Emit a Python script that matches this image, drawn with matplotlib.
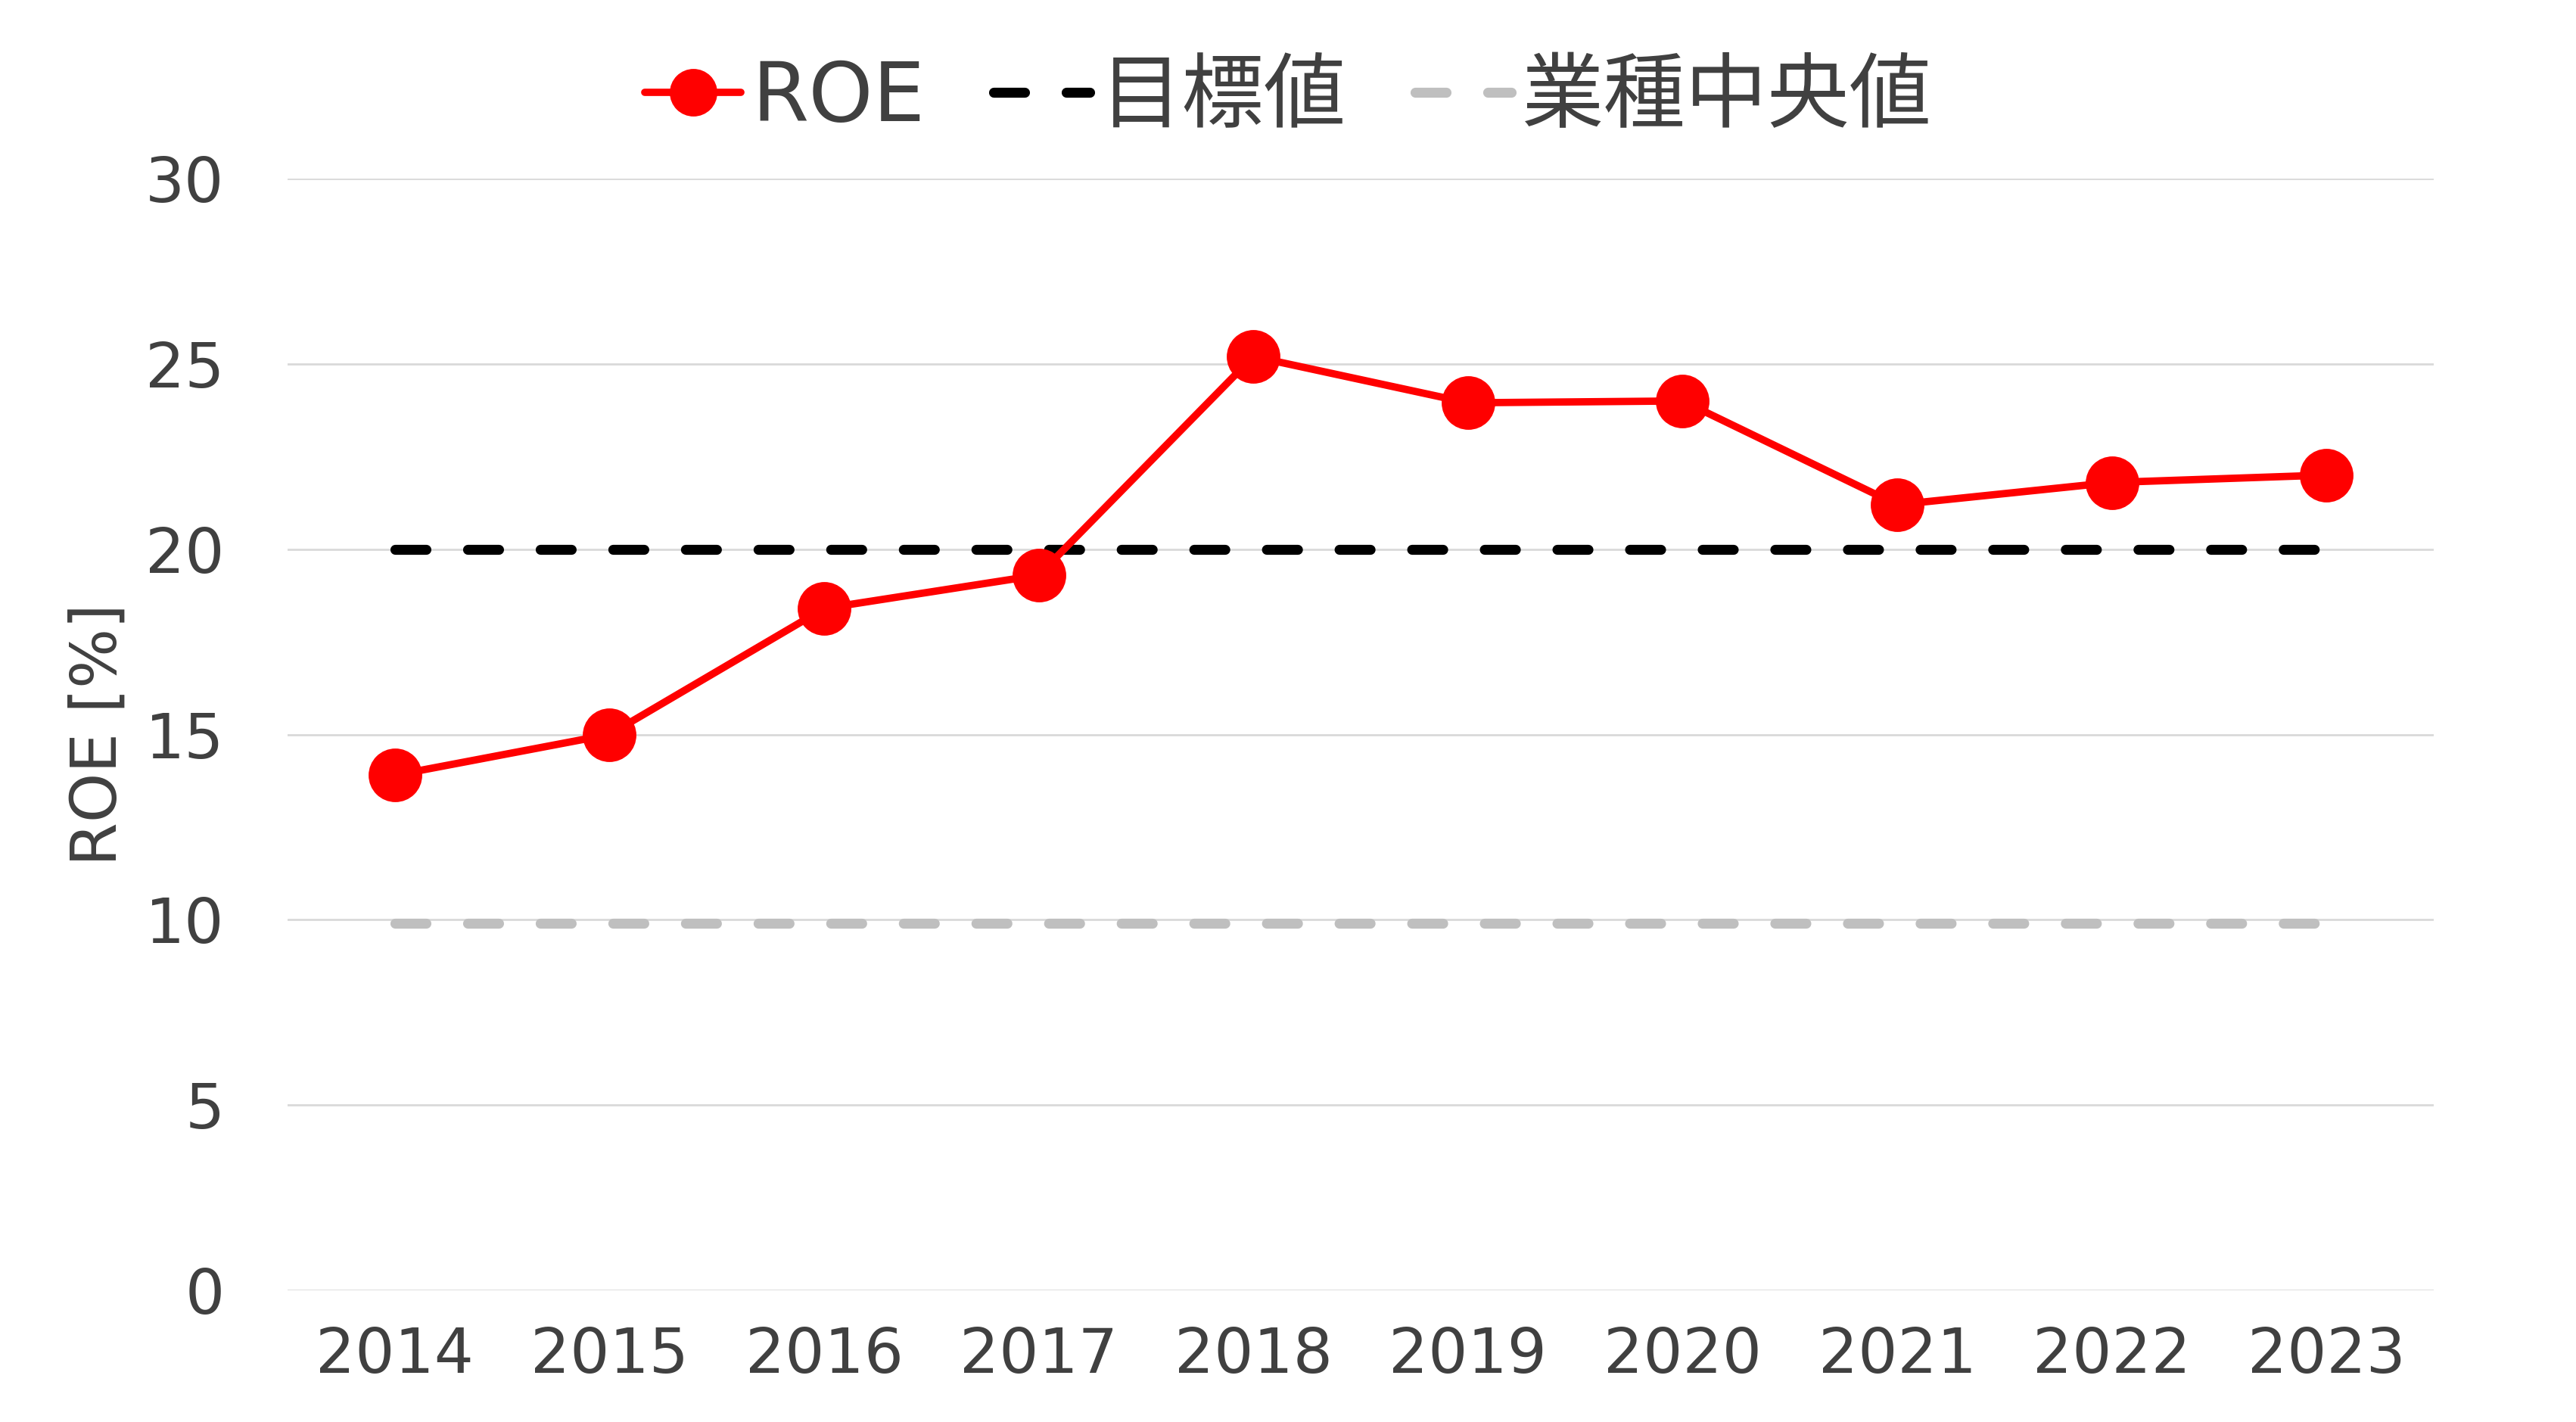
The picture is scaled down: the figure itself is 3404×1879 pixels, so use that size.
import matplotlib
matplotlib.use("Agg")
import matplotlib.pyplot as plt

plt.rcParams['font.family'] = ['DejaVu Sans', 'Noto Sans CJK JP']
plt.rcParams['lines.scale_dashes'] = False

years = ["2014", "2015", "2016", "2017", "2018", "2019", "2020", "2021", "2022", "2023"]
roe = [13.9, 15.0, 18.4, 19.3, 25.2, 23.95, 24.0, 21.2, 21.8, 22.0]
target = [20] * 10
industry_median = [9.9] * 10
yticks = [0, 5, 10, 15, 20, 25, 30]

text_color = "#404040"
x = list(range(len(years)))

fig = plt.figure(figsize=(34.05, 18.79), dpi=100)
ax = fig.add_axes([0.1116, 0.0926, 0.8329, 0.7818])

# dash pattern in points (round caps add to the visible length)
dash = (0, (29.5, 39.6))

ax.plot(x, industry_median, color="#BFBFBF", lw=9.5, linestyle=dash,
        dash_capstyle="round", label="業種中央値", zorder=2)
ax.plot(x, target, color="black", lw=9.5, linestyle=dash,
        dash_capstyle="round", label="目標値", zorder=3)
ax.plot(x, roe, color="#FF0000", lw=7, marker="o", markersize=51,
        markeredgewidth=0, solid_capstyle="round", label="ROE", zorder=4)

ax.set_xlim(-0.5, len(years) - 0.5)
ax.set_ylim(0, 30)
ax.set_xticks(x)
ax.set_xticklabels(years)
ax.set_yticks(yticks)
ax.grid(axis="y", color="#D9D9D9", lw=2)
ax.set_axisbelow(True)
for s in ax.spines.values():
    s.set_visible(False)
ax.tick_params(axis="both", length=0, labelsize=59, colors=text_color)
ax.tick_params(axis="y", pad=60)
ax.tick_params(axis="x", pad=34)

ax.set_ylabel("ROE [%]", fontsize=60, color=text_color)
ax.yaxis.set_label_coords(-0.074, 0.5)

h, l = ax.get_legend_handles_labels()
order = [2, 1, 0]
fig.legend([h[i] for i in order], [l[i] for i in order], loc="center",
           bbox_to_anchor=(0.5, 0.931), ncol=3, frameon=False, fontsize=78,
           labelcolor=text_color, handlelength=1.17, handletextpad=0.13,
           columnspacing=0.84, markerscale=63 / 71)

fig.savefig("out.png", dpi=100)
